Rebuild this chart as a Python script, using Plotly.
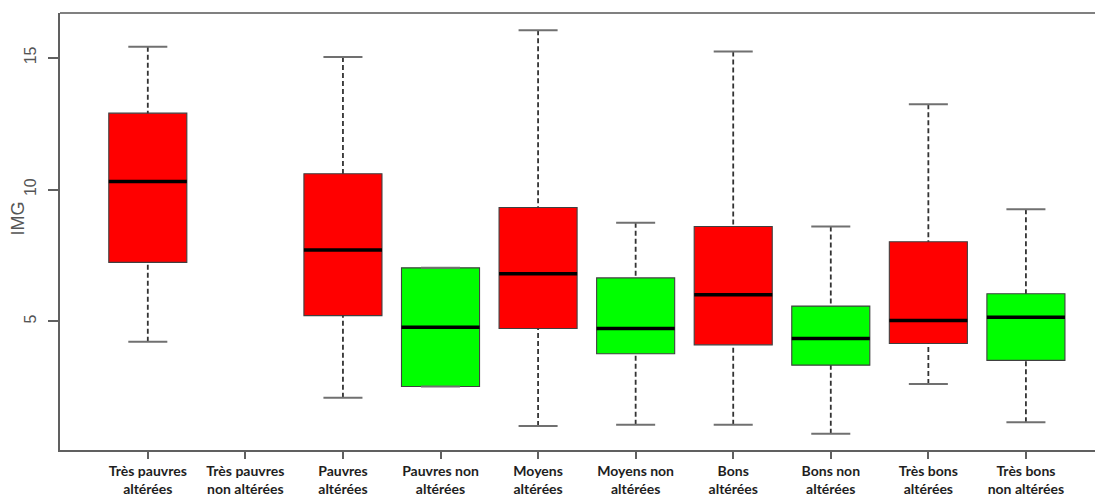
import plotly.graph_objects as go

categories = [
    "Très pauvres<br>altérées", "Très pauvres<br>non altérées",
    "Pauvres<br>altérées", "Pauvres non<br>altérées",
    "Moyens<br>altérées", "Moyens non<br>altérées",
    "Bons<br>altérées", "Bons non<br>altérées",
    "Très bons<br>altérées", "Très bons<br>non altérées",
]
status = ["alt", "non", "alt", "non", "alt", "non", "alt", "non", "alt", "non"]
lower = [4.23, None, 2.10, 2.53, 1.03, 1.08, 1.08, 0.74, 2.62, 1.17]
q1 = [7.24, None, 5.22, 2.53, 4.73, 3.77, 4.11, 3.34, 4.16, 3.52]
median = [10.31, None, 7.71, 4.78, 6.81, 4.73, 6.01, 4.35, 5.03, 5.16]
q3 = [12.90, None, 10.60, 7.03, 9.32, 6.65, 8.60, 5.58, 8.02, 6.05]
upper = [15.42, None, 15.03, 7.03, 16.05, 8.74, 15.24, 8.60, 13.24, 9.25]
y_ticks = [5, 10, 15]

colors = {"alt": "#FF0000", "non": "#00FF00"}
BOX_W = 0.8
STAPLE_HALF = 0.2
positions = list(range(1, len(categories) + 1))

fig = go.Figure()

# whiskers (dashed) and staples
wx, wy, sx, sy = [], [], [], []
for p, lo, a, b, hi in zip(positions, lower, q1, q3, upper):
    if a is None:
        continue
    wx += [p, p, None, p, p, None]
    wy += [hi, b, None, lo, a, None]
    sx += [p - STAPLE_HALF, p + STAPLE_HALF, None, p - STAPLE_HALF, p + STAPLE_HALF, None]
    sy += [hi, hi, None, lo, lo, None]
fig.add_trace(go.Scatter(x=wx, y=wy, mode="lines",
                         line=dict(color="#333333", width=1.8, dash="5px,3px"),
                         hoverinfo="skip", showlegend=False))
fig.add_trace(go.Scatter(x=sx, y=sy, mode="lines",
                         line=dict(color="#707070", width=2),
                         hoverinfo="skip", showlegend=False))

# boxes
for key in ["alt", "non"]:
    idx = [i for i, s in enumerate(status) if s == key and q1[i] is not None]
    fig.add_trace(go.Box(
        x=[positions[i] for i in idx],
        q1=[q1[i] for i in idx], median=[median[i] for i in idx],
        q3=[q3[i] for i in idx],
        lowerfence=[q1[i] for i in idx], upperfence=[q3[i] for i in idx],
        fillcolor=colors[key], line=dict(color="#404040", width=1.1),
        width=BOX_W, whiskerwidth=0, boxpoints=False,
        hoverinfo="skip", showlegend=False,
    ))

# thick medians
mx, my = [], []
for p, m in zip(positions, median):
    if m is None:
        continue
    mx += [p - BOX_W / 2, p + BOX_W / 2, None]
    my += [m, m, None]
fig.add_trace(go.Scatter(x=mx, y=my, mode="lines",
                         line=dict(color="#000000", width=3.5),
                         hoverinfo="skip", showlegend=False))

fig.update_layout(
    width=1095, height=489,
    margin=dict(l=52, r=0, t=5, b=47),
    plot_bgcolor="white", paper_bgcolor="white",
    boxmode="overlay",
    xaxis=dict(
        range=[0.1, 10.79], tickmode="array", tickvals=positions,
        ticktext=categories, showgrid=False, zeroline=False,
        showline=True, linecolor="#606060", linewidth=2,
        ticks="outside", ticklen=7, tickwidth=2, tickcolor="#606060",
        tickfont=dict(family="Lato", size=14, color="#1e1e1e", weight="bold"),
    ),
    yaxis=dict(
        range=[0.12, 16.70], tickmode="array", tickvals=y_ticks,
        ticktext=[str(v) for v in y_ticks],
        showgrid=False, zeroline=False,
        showline=True, linecolor="#606060", linewidth=2,
        ticks="outside", ticklen=10, tickwidth=2, tickcolor="#606060",
        tickangle=-90, ticklabelstandoff=6,
        tickfont=dict(family="Liberation Sans", size=16, color="#555555"),
    ),
    shapes=[dict(type="line", xref="paper", yref="paper", x0=0, x1=1, y0=1, y1=1,
                 line=dict(color="#808080", width=2))],
    annotations=[dict(text="IMG", xref="paper", yref="paper", x=0, y=0.53,
                      xshift=-42, xanchor="center", yanchor="middle",
                      textangle=-90, showarrow=False,
                      font=dict(family="Liberation Sans", size=18, color="#555555"))],
)

fig.write_html("out.html")
